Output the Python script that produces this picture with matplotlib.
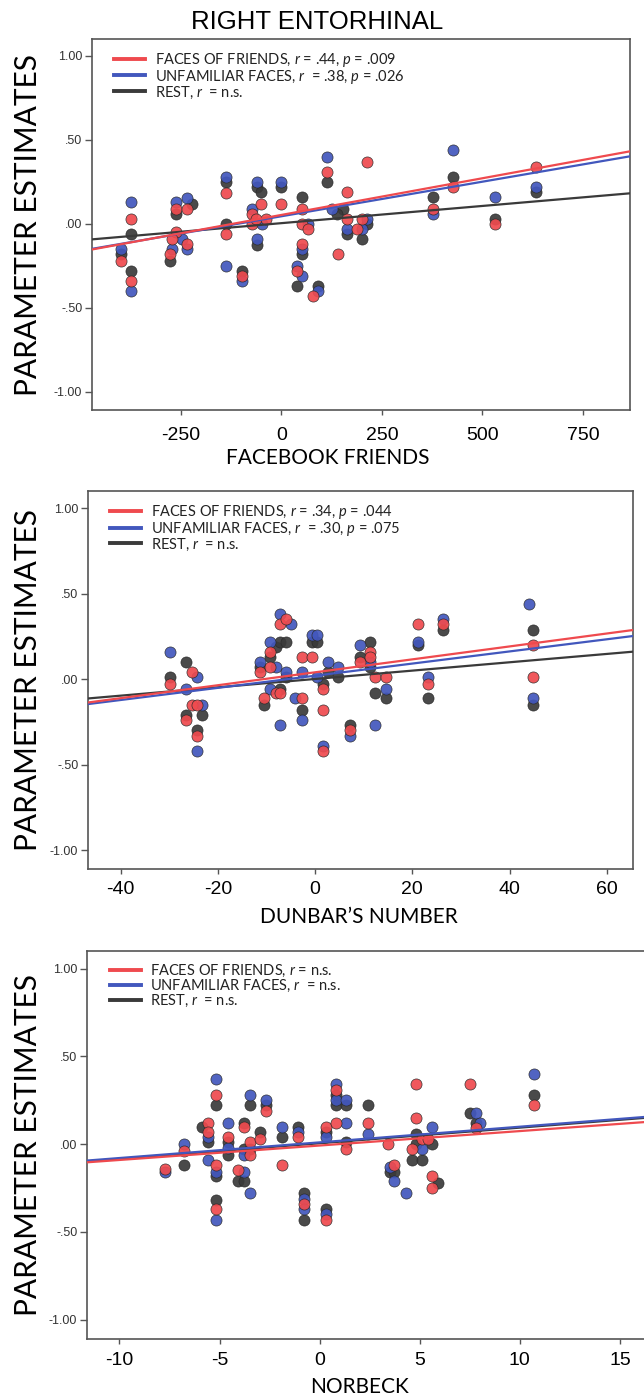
import numpy as np
import matplotlib.pyplot as plt
from matplotlib.lines import Line2D

plt.rcParams['font.family'] = ['Lato', 'DejaVu Sans']
plt.rcParams['mathtext.fontset'] = 'custom'
plt.rcParams['mathtext.rm'] = 'Lato'
plt.rcParams['mathtext.it'] = 'Lato:italic'
plt.rcParams['axes.unicode_minus'] = False

RED = '#ef4a4e'
BLUE = '#4257bd'
GREY = '#3a3a3a'

# --- Facebook friends ---
fb_red_x = [-399, -374, -374, -261, -261, -273, -276, -235, -235, -137, -137, -98, -50, -73, -74, -62, -38, 0, 51, 51,
            65, 51, 39, 79, 113, 164, 164, 141, 188, 200, 214, 376, 428, 532, 634]
fb_red_y = [-0.22, 0.03, -0.34, 0.09, -0.05, -0.09, -0.18, 0.09, -0.12, 0.18, -0.06, -0.31, 0.12, 0.06, 0.00, 0.03,
            0.03, 0.12, 0.09, 0.00, -0.03, -0.12, -0.28, -0.43, 0.31, 0.19, 0.03, -0.18, -0.03, 0.03, 0.37, 0.09,
            0.22, 0.00, 0.34]
fb_blue_x = [-399, -374, -374, -261, -273, -235, -248, -235, -137, -137, -98, -60, -73, -48, -60, 0, 65, 51, 39, 51,
             90, 113, 127, 164, 200, 214, 376, 428, 532, 634]
fb_blue_y = [-0.15, 0.13, -0.40, 0.13, -0.15, 0.15, -0.09, -0.15, 0.28, -0.25, -0.34, 0.25, 0.09, 0.00, -0.09, 0.25,
             0.00, -0.15, -0.25, -0.31, -0.40, 0.40, 0.09, -0.03, -0.03, 0.03, 0.06, 0.44, 0.16, 0.22]
fb_rest_x = [-399, -374, -374, -261, -276, -222, -137, -137, -98, -60, -50, -60, 0, 51, 39, 90, 113, 152, 139, 164,
             200, 214, 51, 376, 428, 532, 634]
fb_rest_y = [-0.18, -0.06, -0.28, 0.06, -0.22, 0.12, 0.25, 0.00, -0.28, 0.22, 0.19, -0.13, 0.22, 0.16, -0.37, -0.37,
             0.25, 0.09, 0.06, -0.06, -0.09, 0.00, -0.18, 0.16, 0.28, 0.03, 0.19]
fb_slope = [0.000437, 0.000412, 0.000205]
fb_icpt = [0.052, 0.044, 0.003]
fb_labels = ['FACES OF FRIENDS, $r$ = .44, $p$ = .009',
             'UNFAMILIAR FACES, $r$  = .38, $p$ = .026',
             'REST, $r$  = n.s.']
fb_ticks = [-250, 0, 250, 500, 750]

# --- Dunbar's number ---
db_red_x = [-29.8, -25.4, -26.5, -25.4, -24.3, -24.3, -11.3, -10.4, -9.3, -9.3, -8.0, -7.2, -7.2, -6.0, -2.7, -2.7,
            -0.6, 1.7, 1.7, 1.7, 7.1, 9.3, 11.3, 11.3, 12.3, 14.6, 21.1, 23.3, 26.4, 44.9, 44.9]
db_red_y = [-0.03, 0.04, -0.24, -0.15, -0.15, -0.33, 0.04, -0.11, 0.16, 0.07, -0.08, 0.32, -0.08, 0.35, 0.13, -0.11,
            0.13, -0.06, -0.18, -0.42, -0.30, 0.10, 0.16, 0.13, 0.01, 0.01, 0.32, -0.03, 0.32, 0.20, 0.01]
db_blue_x = [-29.8, -26.5, -24.3, -23.3, -24.3, -11.3, -9.3, -9.3, -8.0, -7.2, -7.2, -4.9, -6.0, -4.1, -2.7, -2.7,
             -0.6, 0.5, 0.5, 1.7, 2.7, 4.8, 7.1, 9.3, 12.3, 11.3, 14.6, 21.1, 23.3, 26.4, 44.0, 44.9]
db_blue_y = [0.16, -0.06, 0.01, -0.15, -0.42, 0.10, 0.22, -0.06, 0.07, 0.38, -0.27, 0.32, 0.04, -0.11, 0.04, -0.24,
             0.26, 0.26, 0.01, -0.39, 0.10, 0.07, -0.33, 0.20, -0.27, 0.10, -0.06, 0.22, 0.01, 0.35, 0.44, -0.11]
db_rest_x = [-29.8, -26.5, -26.5, -23.3, -24.3, -11.3, -10.4, -9.3, -8.0, -7.2, -7.2, -6.0, -6.0, -2.7, -0.6, 0.5,
             1.7, 2.7, 4.8, 7.1, 9.3, 11.3, 12.3, 11.3, 14.6, 21.1, 23.3, 26.4, 44.9, 44.9]
db_rest_y = [0.01, 0.10, -0.21, -0.21, -0.30, 0.07, -0.15, 0.13, 0.19, 0.22, -0.06, 0.22, 0.01, -0.18, 0.22, 0.22,
             -0.03, 0.04, 0.01, -0.27, 0.13, 0.22, -0.08, 0.07, -0.11, 0.20, -0.11, 0.29, 0.29, -0.15]
db_slope = [0.00378, 0.00355, 0.00244]
db_icpt = [0.040, 0.020, 0.001]
db_labels = ['FACES OF FRIENDS, $r$ = .34, $p$ = .044',
             'UNFAMILIAR FACES, $r$  = .30, $p$ = .075',
             'REST, $r$  = n.s.']
db_ticks = [-40, -20, 0, 20, 40, 60]

# --- Norbeck ---
nb_red_x = [-7.7, -6.8, -5.6, -5.6, -5.2, -5.2, -5.2, -4.6, -4.1, -3.8, -3.5, -3.5, -3.0, -2.7, -1.9, -1.1, -0.8,
            0.3, 0.3, 0.8, 0.8, 1.3, 2.4, 3.4, 3.7, 4.6, 4.8, 4.8, 5.1, 5.4, 5.6, 5.6, 7.5, 7.8, 10.7]
nb_red_y = [-0.14, -0.04, 0.12, 0.07, 0.28, -0.12, -0.37, 0.04, -0.15, 0.10, 0.01, -0.06, 0.03, 0.19, -0.12, 0.04,
            -0.34, 0.10, -0.43, 0.31, 0.12, -0.03, 0.12, 0.00, -0.12, -0.03, 0.34, 0.15, 0.03, 0.03, -0.18, -0.25,
            0.34, 0.09, 0.22]
nb_blue_x = [-7.7, -6.8, -5.6, -5.6, -5.2, -5.2, -5.2, -4.6, -4.6, -3.8, -3.8, -3.5, -3.5, -2.7, -1.9, -1.1, -0.8,
             -0.8, 0.3, 0.3, 0.8, 0.8, 1.3, 1.3, 2.4, 3.5, 3.7, 4.3, 5.1, 5.6, 7.8, 8.0, 10.7]
nb_blue_y = [-0.16, 0.00, 0.04, -0.09, 0.37, -0.16, -0.43, 0.12, -0.02, -0.06, -0.16, 0.28, -0.28, 0.25, 0.10, 0.07,
             -0.31, -0.37, 0.04, -0.40, 0.34, 0.25, 0.25, 0.12, 0.06, -0.13, -0.21, -0.28, -0.03, 0.10, 0.18, 0.12,
             0.40]
nb_rest_x = [-6.8, -5.9, -5.6, -5.2, -5.2, -5.2, -4.6, -4.6, -4.1, -3.8, -3.8, -3.8, -3.5, -3.5, -3.0, -2.7, -1.9,
             -1.1, -0.8, -0.8, 0.3, 0.3, 0.8, 0.8, 1.3, 1.3, 2.4, 3.5, 3.7, 4.6, 4.8, 4.8, 5.1, 5.6, 5.9, 7.5, 7.8,
             10.7]
nb_rest_y = [-0.12, 0.10, 0.01, 0.22, -0.18, -0.32, 0.01, -0.06, -0.21, 0.12, -0.03, -0.21, 0.22, -0.03, 0.07, 0.22,
             0.04, 0.10, -0.28, -0.43, 0.07, -0.37, 0.28, 0.22, 0.22, 0.01, 0.22, -0.16, -0.16, -0.09, 0.06, 0.00,
             -0.09, 0.00, -0.22, 0.18, 0.12, 0.28]
nb_slope = [0.00823, 0.00892, 0.0089]
nb_icpt = [-0.008, 0.010, 0.005]
nb_labels = ['FACES OF FRIENDS, $r$ = n.s.',
             'UNFAMILIAR FACES, $r$  = n.s.',
             'REST, $r$  = n.s.']
nb_ticks = [-10, -5, 0, 5, 10, 15]

y_ticks = [1.0, 0.5, 0.0, -0.5, -1.0]
y_ticklabels = ['1.00', '.50', '.00', '-.50', '-1.00']

W, H = 644, 1397
fig = plt.figure(figsize=(W / 100, H / 100), dpi=100)


def px_rect(left, right, top, bottom):
    # pixel box -> figure fraction
    return [left / W, 1 - bottom / H, (right - left) / W, (bottom - top) / H]


def panel(box, xlim, xticks, pts, slopes, icpts, labels, xlabel, xlabel_xy, xpad):
    left, right, top, bottom = box
    ax = fig.add_axes(px_rect(left, right, top, bottom))
    colors = [RED, BLUE, GREY]
    # rest first, then unfamiliar, friends on top
    for i in [2, 1, 0]:
        x, y = pts[i]
        ax.scatter(x, y, s=64, color=colors[i], edgecolors='#2a2a2a', linewidths=0.5, alpha=0.92, zorder=2)
    xs = np.array(xlim)
    for i in [2, 1, 0]:
        ax.plot(xs, icpts[i] + slopes[i] * xs, color=colors[i], lw=1.6, zorder=3)
    ax.set_xlim(xlim)
    ax.set_ylim(-1.11, 1.10)
    ax.set_xticks(xticks)
    ax.set_yticks(y_ticks)
    ax.set_yticklabels(y_ticklabels)
    ax.tick_params(axis='y', length=5, width=1, color='#555555', labelsize=9, pad=2, labelcolor='#333333')
    ax.tick_params(axis='x', length=3.5, width=1, color='#555555', labelsize=14, pad=xpad)
    for lab in ax.get_xticklabels() + ax.get_yticklabels():
        lab.set_fontfamily('Liberation Sans')
    for sp in ax.spines.values():
        sp.set_color('#555555')
        sp.set_linewidth(1.2)
    handles = [Line2D([], [], color=c, lw=2.8) for c in colors]
    ax.legend(handles, labels, loc='upper left', bbox_to_anchor=(0.027, 0.988), frameon=False, fontsize=10.5,
              borderpad=0, handlelength=2.15, handletextpad=0.65, labelspacing=-0.08, labelcolor='#222222')
    fig.text(xlabel_xy[0] / W, 1 - xlabel_xy[1] / H, xlabel, ha='center', va='center', fontsize=15)
    fig.text(28 / W, 1 - (top + bottom) / 2 / H, 'PARAMETER ESTIMATES',
             rotation=90, ha='center', va='center', fontsize=21.5)
    return ax


panel((92, 630, 39, 410), (-471, 867), fb_ticks,
      [(fb_red_x, fb_red_y), (fb_blue_x, fb_blue_y), (fb_rest_x, fb_rest_y)],
      fb_slope, fb_icpt, fb_labels, 'FACEBOOK FRIENDS', (328, 458), 9)

panel((88, 633, 491, 869), (-46.7, 65.4), db_ticks,
      [(db_red_x, db_red_y), (db_blue_x, db_blue_y), (db_rest_x, db_rest_y)],
      db_slope, db_icpt, db_labels, 'DUNBAR\u2019S NUMBER', (359, 917), 5)

panel((87, 652, 951, 1339), (-11.62, 16.6), nb_ticks,
      [(nb_red_x, nb_red_y), (nb_blue_x, nb_blue_y), (nb_rest_x, nb_rest_y)],
      nb_slope, nb_icpt, nb_labels, 'NORBECK', (359, 1387), 6)

fig.text(317 / W, 1 - 22 / H, 'RIGHT ENTORHINAL', ha='center', va='center', fontsize=18.5,
         family='Liberation Sans')

fig.savefig('out.png', dpi=100)
